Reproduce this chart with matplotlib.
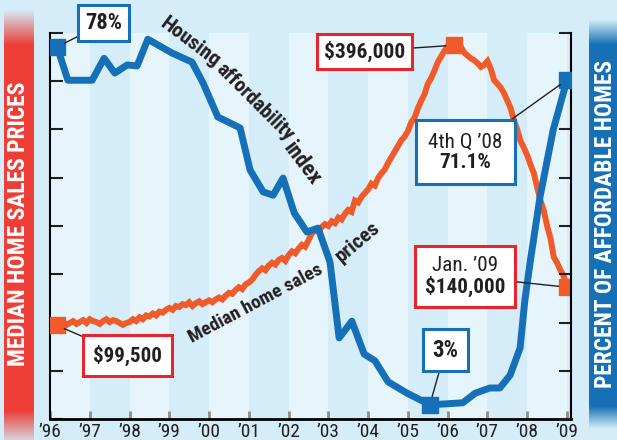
import matplotlib.pyplot as plt
from matplotlib import font_manager
from matplotlib.offsetbox import AnnotationBbox, TextArea, VPacker
import numpy as np
import pandas as pd

# pick a narrow sans face if one is installed
faces = font_manager.fontManager.ttflist
narrow = {(f.name, f.stretch) for f in faces
          if f.stretch in ('condensed', 'semi-condensed', 'extra-condensed')}
family, stretch = 'DejaVu Sans', 'normal'
for name in ['Liberation Sans Narrow', 'Roboto Condensed', 'Open Sans Condensed',
             'Noto Sans', 'Roboto', 'Open Sans', 'DejaVu Sans']:
    hits = [s for n, s in narrow if n == name]
    if hits:
        family, stretch = name, hits[0]
        break
plt.rcParams['font.family'] = [family, 'DejaVu Sans']
plt.rcParams['font.stretch'] = stretch

# Median home sales price, monthly, in $ thousands
price_months = pd.date_range('1996-03-01', '2009-01-01', freq='MS')
median_price = [
    99.5, 101, 103, 100, 102, 104, 101, 103, 105, 102,                # 1996
    106, 104, 103, 101, 104, 106, 103, 105, 104, 102, 100, 102,       # 1997
    103, 106, 104, 108, 106, 110, 109, 112, 110, 114, 113, 116,       # 1998
    118, 116, 120, 119, 122, 121, 124, 120, 123, 125, 122, 124,       # 1999
    126, 124, 127, 129, 127, 131, 134, 133, 137, 140, 138, 143,       # 2000
    145, 148, 153, 157, 160, 158, 163, 166, 164, 169, 171, 168,       # 2001
    174, 178, 176, 181, 185, 183, 190, 197, 201, 199, 204, 207,       # 2002
    205, 210, 208, 214, 212, 218, 222, 220, 232, 230, 236, 240,       # 2003
    244, 250, 248, 256, 261, 265, 272, 278, 284, 290, 296, 300,       # 2004
    306, 315, 320, 330, 338, 345, 356, 362, 370, 379, 385, 391,       # 2005
    396, 394, 397, 393, 395, 389, 386, 383, 381, 378, 374, 376,       # 2006
    380, 372, 360, 356, 352, 346, 338, 330, 317, 307, 295, 288,       # 2007
    280, 270, 261, 246, 232, 221, 205, 192, 172, 166, 158, 152,       # 2008
    140,                                                              # 2009
]

# Housing affordability index (% of affordable homes)
afford_years = [1996.18, 1996.45, 1997.06, 1997.36, 1997.63, 1997.94, 1998.19,
                1998.46, 1999.07, 1999.57, 1999.85, 2000.22, 2000.78, 2001.03,
                2001.36, 2001.61, 2001.86, 2002.14, 2002.46, 2002.74, 2003.04,
                2003.27, 2003.59, 2003.90, 2004.17, 2004.50, 2004.98, 2005.55,
                2005.81, 2006.38, 2006.69, 2007.06, 2007.31, 2007.57, 2007.82,
                2007.94, 2008.07, 2008.32, 2008.65, 2009.0]
afford_pct = [78, 71.0, 71.0, 75.6, 72.5, 74.2, 74.0,
              79.6, 76.7, 74.8, 70.4, 63.3, 61.0, 52.2,
              47.6, 46.9, 50.5, 43.2, 39.2, 40.0, 32.9,
              17.0, 20.5, 13.6, 12.2, 7.8, 5.4, 3.0,
              3.1, 3.4, 5.4, 6.5, 6.5, 9.2, 14.9,
              24.9, 32.7, 46.5, 60.5, 71.1]

years = list(range(1996, 2010))
year_labels = ['’96', '’97', '’98', '’99', '’00', '’01', '’02',
               '’03', '’04', '’05', '’06', '’07', '’08', '’09']

BG = '#d4edf9'
STRIPE = '#e6f5fc'
ORANGE = '#f15a29'
BLUE = '#1570b8'
RED = '#e8242c'
INK = '#231f20'

price_x = price_months.year + (price_months.month - 1) / 12

fig = plt.figure(figsize=(6.17, 4.40), dpi=100, facecolor=BG)
renderer = fig.canvas.get_renderer()


def text_px(text, size, weight='bold'):
    t = fig.text(0, 0, text, fontsize=size, fontweight=weight)
    w = t.get_window_extent(renderer).width
    t.remove()
    return w


def size_for(text, target_px, weight='bold'):
    # font size that makes an unrotated text as wide as in the reference
    return 14 * target_px / text_px(text, 14, weight)


# side bands with faded ends
rows = np.arange(440)
red_alpha = np.clip((rows - 10) / 35, 0, 1) * np.clip((445 - rows) / 35, 0, 1)
blue_alpha = np.clip((rows - 20) / 25, 0, 1) * np.clip((428 - rows) / 22, 0, 1)
for left, width, color, alpha in [(4, 30, (0.93, 0.25, 0.22), red_alpha),
                                  (589, 28, (0.09, 0.44, 0.71), blue_alpha)]:
    bax = fig.add_axes([left / 617, 0, width / 617, 1])
    img = np.zeros((440, 1, 4))
    img[:, 0, :3] = color
    img[:, 0, 3] = alpha
    bax.imshow(img, aspect='auto', extent=(0, 1, 0, 1))
    bax.axis('off')

for x, label, length in [(19, 'MEDIAN HOME SALES PRICES', 285),
                         (605, 'PERCENT OF AFFORDABLE HOMES', 328)]:
    fig.text(x / 617, 1 - 224 / 440, label, color='white', fontsize=size_for(label, length),
             fontweight='bold', ha='center', va='center', rotation=90)

ax = fig.add_axes([50 / 617, 21 / 440, 521 / 617, 386 / 440])
ax.set_facecolor(BG)
for y in years[:-1:2]:
    ax.axvspan(y, y + 1, color=STRIPE, lw=0, zorder=0)

ax.plot(price_x, median_price, color=ORANGE, lw=4.3, solid_joinstyle='miter', zorder=2)
peak = int(np.argmax(median_price))
for i in [0, peak, len(median_price) - 1]:
    ax.plot(price_x[i], median_price[i], 's', color=ORANGE, ms=11.5, zorder=3)

ax.set_xlim(1996, 2009.1)
ax.set_ylim(0, 410)
ax.set_xticks(years)
ax.set_xticklabels(year_labels, color=INK, fontsize=size_for(year_labels[0], 23, 'normal'))
ax.tick_params(axis='x', direction='in', length=6, width=2, color='#8c8c8c', pad=3)
ax.set_yticks(np.linspace(0, 410, 9))
ax.set_yticklabels([])
ax.tick_params(axis='y', direction='in', length=9, width=1.5, color=INK)
ax.spines['top'].set_visible(False)
ax.spines['right'].set_visible(False)
ax.spines['left'].set_linewidth(1.5)
ax.spines['bottom'].set_linewidth(2)

ax2 = ax.twinx()
ax2.plot(afford_years, afford_pct, color=BLUE, lw=5, solid_joinstyle='round', zorder=3)
lo = int(np.argmin(afford_pct))
for i in [0, lo, len(afford_pct) - 1]:
    ax2.plot(afford_years[i], afford_pct[i], 's', color=BLUE, ms=11.5, zorder=4)
ax2.set_ylim(0, 80.9)
ax2.set_yticks(np.linspace(0, 80.9, 9))
ax2.set_yticklabels([])
ax2.tick_params(axis='y', direction='in', length=9, width=1.5, color=INK)
for s in ['top', 'left', 'bottom']:
    ax2.spines[s].set_visible(False)
ax2.spines['right'].set_linewidth(1.5)


def callout(xy, xytext, lines, ec, coords, last_w, box_w):
    # lines: list of (text, weight); last_w: reference width of the last line in px
    fs = size_for(*lines[-1][:1], last_w, lines[-1][1])
    areas = [TextArea(s, textprops=dict(fontsize=fs, fontweight=w, color=INK))
             for s, w in lines]
    pack = VPacker(children=areas, align='center', pad=0, sep=1)
    text_w = max(text_px(s, fs, w) for s, w in lines)
    pad_pt = (box_w - text_w) / 2 * 0.72
    ab = AnnotationBbox(pack, xy, xybox=xytext, xycoords=coords, boxcoords=coords,
                        pad=pad_pt / 10, fontsize=10, annotation_clip=False,
                        bboxprops=dict(fc='white', ec=ec, lw=2.2),
                        arrowprops=dict(arrowstyle='-', color=INK, lw=1,
                                        shrinkA=0, shrinkB=6))
    ab.set_zorder(6)
    ax2.add_artist(ab)


pc = ax2.transData
pr = ax.transData
callout((afford_years[0], afford_pct[0]), (1997.35, 82.9),
        [('78%', 'bold')], BLUE, pc, 37, 51)
callout((afford_years[lo], afford_pct[lo]), (2005.94, 14.4),
        [('3%', 'bold')], BLUE, pc, 26, 45)
callout((afford_years[-1], afford_pct[-1]), (2006.45, 55.9),
        [('4th Q ’08', 'normal'), ('71.1%', 'bold')], BLUE, pc, 52, 99)
callout((price_x[peak], median_price[peak]), (2003.91, 390.6),
        [('$396,000', 'bold')], RED, pr, 81, 95)
callout((price_x[0], median_price[0]), (1997.95, 67.1),
        [('$99,500', 'bold')], RED, pr, 69, 89)
callout((price_x[-1], median_price[-1]), (2006.43, 151.5),
        [('Jan. ’09', 'normal'), ('$140,000', 'bold')], RED, pr, 80, 100)

# series labels that follow the lines
for word, x, y, rot, length in [('Housing', 1999.52, 400, -37, 70),
                                ('affordability', 2001.16, 336.4, -45, 102),
                                ('index', 2002.34, 271.5, -53, 48),
                                ('Median home sales', 2001.18, 122.8, 28, 150),
                                ('prices', 2003.74, 187.7, 40, 52)]:
    ax2.text(x, y, word, transform=pr, rotation=rot, rotation_mode='anchor', ha='center',
             va='center', fontsize=size_for(word, length), fontweight='bold', color=INK,
             zorder=5)

fig.savefig('out.png', dpi=100, facecolor=BG)
